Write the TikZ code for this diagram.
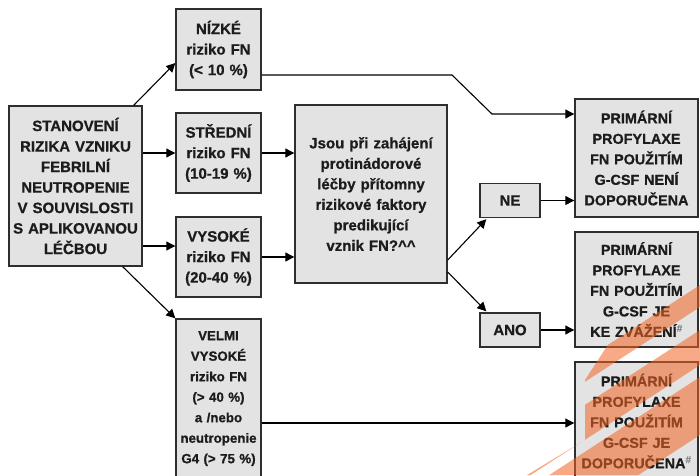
\documentclass[tikz,border=0pt]{standalone}
\usepackage{fontspec}
\setmainfont[BoldFeatures={FakeBold=0.8}]{Liberation Sans}
\usetikzlibrary{arrows.meta,calc}
\definecolor{boxfill}{HTML}{E3E3E3}
\definecolor{boxline}{HTML}{2E2E2E}
\definecolor{ink}{HTML}{1C1C1C}
\definecolor{hashgray}{HTML}{8A8A8A}
\definecolor{stripe}{HTML}{F26522}
\newcommand\sharpmark{\textsuperscript{\textcolor{hashgray}{\#}}}
\begin{document}
\begin{tikzpicture}[x=1pt,y=-1pt,
  box/.style={draw=boxline, line width=1.4pt, fill=boxfill, inner sep=0pt,
    align=center, text=ink, font=\bfseries\fontsize{15}{20.5}\selectfont},
  riskbox/.style={box, minimum width=85pt, text width=82pt},
  resultbox/.style={box, minimum width=123pt, text width=120pt,
    font=\bfseries\fontsize{14.4}{20.5}\selectfont},
  answer/.style={box, minimum width=60pt, minimum height=34pt},
  link/.style={draw=black, line width=1.1pt, -{Triangle[length=9pt,width=9pt]}},
  band/.style={fill=stripe, fill opacity=0.55}]
\useasboundingbox (0,0) rectangle (700,475);

% assessment of the risk
\node[box, minimum width=133pt, minimum height=160pt, text width=130pt] (risk) at (75.5,186)
  {STANOVENÍ\\RIZIKA VZNIKU\\FEBRILNÍ\\NEUTROPENIE\\V SOUVISLOSTI\\S APLIKOVANOU\\LÉČBOU};

% risk categories
\node[riskbox, minimum height=81pt] (nizke) at (218.5,49.5) {NÍZKÉ\\riziko FN\\(< 10 \%)};
\node[riskbox, minimum height=80pt] (stredni) at (218.5,153) {STŘEDNÍ\\riziko FN\\(10-19 \%)};
\node[riskbox, minimum height=80pt] (vysoke) at (218.5,257) {VYSOKÉ\\riziko FN\\(20-40 \%)};
\node[riskbox, minimum height=159pt, font=\bfseries\fontsize{13.3}{20.5}\selectfont] (velmi) at (218.5,398.5)
  {VELMI\\VYSOKÉ\\riziko FN\\(> 40 \%)\\a /nebo\\neutropenie\\G4 (> 75 \%)};

% question on risk factors
\node[box, minimum width=152pt, minimum height=178pt, text width=148pt] (question) at (371,194)
  {Jsou při zahájení\\protinádorové\\léčby přítomny\\rizikové faktory\\predikující\\vznik FN?\textasciicircum\textasciicircum};

\node[answer] (ne) at (510,200.5) {NE};
\node[answer] (ano) at (510,330) {ANO};

% recommendations
\node[resultbox, minimum height=118pt] (p1) at (636.5,158)
  {PRIMÁRNÍ\\PROFYLAXE\\FN POUŽITÍM\\G-CSF NENÍ\\DOPORUČENA};
\node[resultbox, minimum height=115pt] (p2) at (636.5,289.5)
  {PRIMÁRNÍ\\PROFYLAXE\\FN POUŽITÍM\\G-CSF JE\\KE ZVÁŽENÍ\sharpmark};
\node[resultbox, minimum height=118pt] (p3) at (636.5,421)
  {PRIMÁRNÍ\\PROFYLAXE\\FN POUŽITÍM\\G-CSF JE\\DOPORUČENA\sharpmark};

% connectors
\draw[link] ($(risk.north east)+(-9,0)$) -- ($(nizke.west)+(0,13.5)$);
\draw[link] (risk.east |- stredni.west) -- (stredni.west);
\coordinate (vin) at ($(vysoke.west)+(0,-11)$);
\draw[link] (risk.east |- vin) -- (vin);
\draw[link] ($(risk.south east)+(-20,0)$) -- (velmi.north west);

\coordinate (lowout) at ($(nizke.east)+(0,25.5)$);
\coordinate (bendA) at (452,75);
\coordinate (bendB) at (492,114);
\draw[link] (lowout) -- (bendA) -- (bendB) -- (p1.west |- bendB);

\draw[link] (stredni.east) -- (question.west |- stredni.east);
\draw[link] (vysoke.east) -- (question.west |- vysoke.east);
\draw[link] ($(question.east)+(0,66)$) -- ($(ne.south west)+(7,1)$);
\draw[link] ($(question.east)+(0,78)$) -- ($(ano.north west)+(7,-1)$);
\draw[link] (ne.east) -- (p1.west |- ne.east);
\draw[link] (ano.east) -- (p2.west |- ano.east);
\coordinate (vhout) at ($(velmi.east)+(0,24.5)$);
\draw[link] (vhout) -- (p3.west |- vhout);

% translucent orange stripes over the lower right corner
\begin{scope}
  \clip (650,280) -- (700,280) -- (700,475) -- (527,475) -- (585,440) -- (585,380) -- cycle;
  \fill[band] (500,415) -- (700,285) -- (700,307) -- (500,437) -- cycle;
  \fill[band] (500,460) -- (700,330) -- (700,365) -- (500,495) -- cycle;
  \fill[band] (500,507) -- (700,377) -- (700,435) -- (500,565) -- cycle;
\end{scope}
\end{tikzpicture}
\end{document}
